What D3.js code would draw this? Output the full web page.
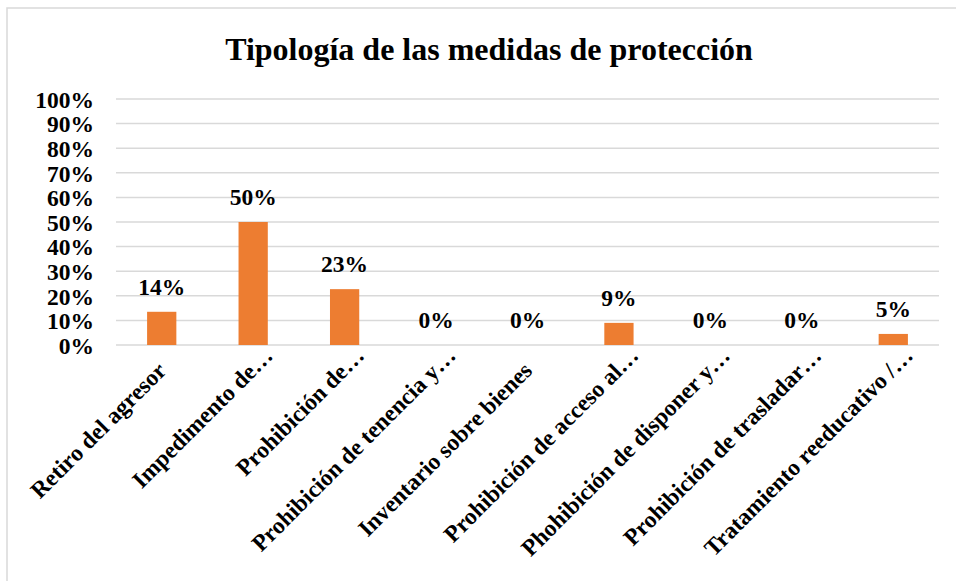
<!DOCTYPE html>
<html>
<head>
<meta charset="utf-8">
<script src="https://cdn.jsdelivr.net/npm/d3@7"></script>
<style>
  body { margin: 0; background: #fff; }
  text { font-family: "Liberation Serif", "Times New Roman", serif; font-weight: bold; fill: #000; }
</style>
</head>
<body>
<div id="chart"></div>
<script>
// chart data
var categories = [
  "Retiro del agresor",
  "Impedimento de…",
  "Prohibición de…",
  "Prohibición de tenencia y…",
  "Inventario sobre bienes",
  "Prohibición de acceso al…",
  "Phohibición de disponer y…",
  "Prohibición de trasladar…",
  "Tratamiento reeducativo /…"
];
var values = [0.135, 0.50, 0.227, 0, 0, 0.09, 0, 0, 0.045];
var yTicks = [0, 0.1, 0.2, 0.3, 0.4, 0.5, 0.6, 0.7, 0.8, 0.9, 1.0];
var title = "Tipología de las medidas de protección";

var svgWidth = 956;
var svgHeight = 581;

var margin = { top: 99, right: 17, bottom: 236, left: 116 };
var chartWidth = svgWidth - margin.left - margin.right;
var chartHeight = svgHeight - margin.top - margin.bottom;

var svg = d3.select("#chart")
  .append("svg")
  .attr("width", svgWidth)
  .attr("height", svgHeight);

// outer chart border
svg.append("rect")
  .attr("x", 7)
  .attr("y", 8)
  .attr("width", 980)
  .attr("height", 600)
  .attr("fill", "none")
  .attr("stroke", "#d9d9d9")
  .attr("stroke-width", 1.5);

// title
svg.append("text")
  .attr("x", 489)
  .attr("y", 60)
  .attr("text-anchor", "middle")
  .attr("font-size", "32px")
  .text(title);

var chartGroup = svg.append("g")
  .attr("transform", `translate(${margin.left}, ${margin.top})`);

var xScale = d3.scaleBand()
  .domain(categories)
  .range([0, chartWidth])
  .paddingInner(0.68)
  .paddingOuter(0.34);

var yScale = d3.scaleLinear()
  .domain([0, 1])
  .range([chartHeight, 0]);

// gridlines
chartGroup.selectAll(".grid")
  .data(yTicks)
  .enter()
  .append("line")
  .attr("x1", 0)
  .attr("x2", chartWidth)
  .attr("y1", d => yScale(d))
  .attr("y2", d => yScale(d))
  .attr("stroke", "#d9d9d9")
  .attr("stroke-width", 1.5);

// y axis labels
var leftAxis = d3.axisLeft(yScale)
  .tickValues(yTicks)
  .tickFormat(d3.format(".0%"))
  .tickSize(0)
  .tickPadding(22);

var yAxis = chartGroup.append("g").call(leftAxis);
yAxis.attr("font-family", null).attr("font-size", null);
yAxis.select(".domain").remove();
yAxis.selectAll("text")
  .attr("font-size", "23.5px")
  .attr("dy", "0.35em");

// bars
chartGroup.selectAll("rect.bar")
  .data(values)
  .enter()
  .append("rect")
  .attr("class", "bar")
  .attr("x", (d, i) => xScale(categories[i]))
  .attr("y", d => yScale(d))
  .attr("width", xScale.bandwidth())
  .attr("height", d => chartHeight - yScale(d))
  .attr("fill", "#ed7d31");

// data labels
chartGroup.selectAll("text.val")
  .data(values)
  .enter()
  .append("text")
  .attr("class", "val")
  .attr("x", (d, i) => xScale(categories[i]) + xScale.bandwidth() / 2)
  .attr("y", d => yScale(d) - 17)
  .attr("text-anchor", "middle")
  .attr("font-size", "23.5px")
  .text(d => Math.round(d * 100) + "%");

// category labels, rotated; full (non-truncated) labels sit a bit lower along the slant
chartGroup.selectAll("text.cat")
  .data(categories)
  .enter()
  .append("text")
  .attr("class", "cat")
  .attr("text-anchor", "end")
  .attr("font-size", "23.5px")
  .attr("transform", d => {
    var shift = d.endsWith("…") ? 0 : 15;
    var cx = xScale(d) + xScale.bandwidth() / 2 + 21 - shift;
    var cy = chartHeight + 12 + shift;
    return `translate(${cx}, ${cy}) rotate(-45)`;
  })
  .text(d => d);
</script>
</body>
</html>
